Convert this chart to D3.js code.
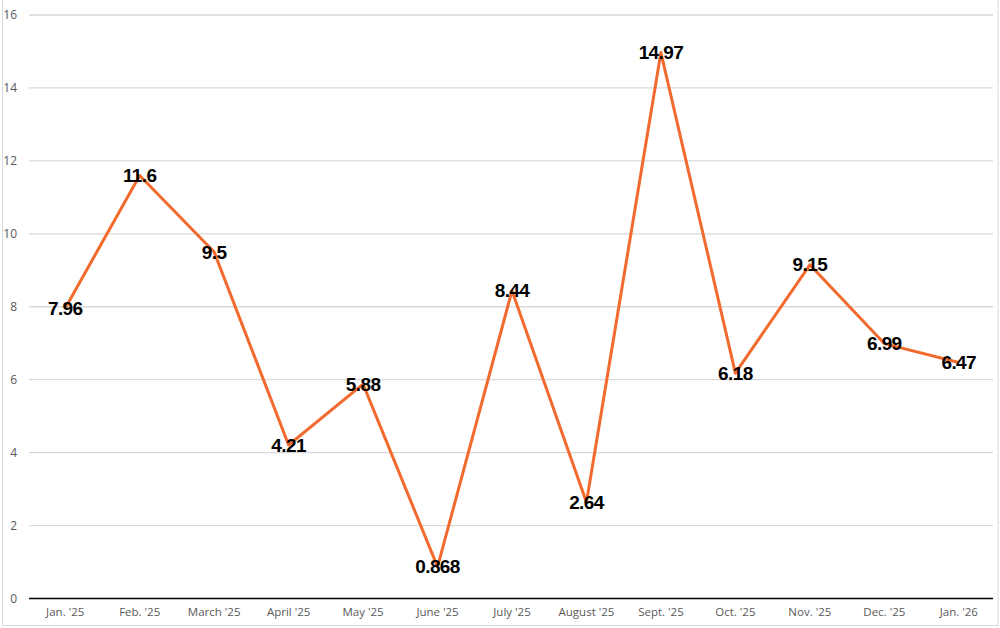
<!DOCTYPE html>
<html>
<head>
<meta charset="utf-8">
<script src="https://cdn.jsdelivr.net/npm/d3@7"></script>
<style>
    body { margin: 0; background: #fff; }
    #chart { width: 1000px; height: 628px; }
</style>
</head>
<body>
<div id="chart"></div>
<script>
var months = ["Jan. '25", "Feb. '25", "March '25", "April '25", "May '25", "June '25", "July '25",
              "August '25", "Sept. '25", "Oct. '25", "Nov. '25", "Dec. '25", "Jan. '26"];
var values = [7.96, 11.6, 9.5, 4.21, 5.88, 0.868, 8.44, 2.64, 14.97, 6.18, 9.15, 6.99, 6.47];
var y_ticks = [0, 2, 4, 6, 8, 10, 12, 14, 16];

let width = 1000, height = 628;
let margin = {top: 15, right: 4, bottom: 29, left: 29};

let svg = d3.select('#chart').append('svg')
    .attr('width', width)
    .attr('height', height);

// outer frame of the chart object
svg.append('rect')
    .attr('x', 2.5).attr('y', -2)
    .attr('width', 995.5).attr('height', 627.5)
    .attr('fill', 'none')
    .attr('stroke', '#d9d9d9')
    .attr('stroke-width', 1);

let x = d3.scaleBand()
    .domain(months)
    .range([margin.left - 1, width - margin.right]);

let y = d3.scaleLinear()
    .domain([0, 16])
    .range([height - margin.bottom - 0.5, margin.top]);

// gridlines
svg.append('g')
    .selectAll('line')
    .data(y_ticks.slice(1))
    .enter().append('line')
    .attr('x1', margin.left)
    .attr('x2', width - margin.right - 3)
    .attr('y1', function(d) { return y(d); })
    .attr('y2', function(d) { return y(d); })
    .attr('stroke', '#d9d9d9')
    .attr('stroke-width', 1.3);

// y axis labels
let y_axis = svg.append('g')
    .attr('transform', 'translate(' + (margin.left - 12) + ',0)')
    .call(d3.axisLeft(y).tickValues(y_ticks).tickSize(0).tickPadding(0));
y_axis.select('.domain').remove();
y_axis.selectAll('text')
    .style('font-family', 'Open Sans, sans-serif')
    .style('font-size', '12px')
    .style('fill', '#595959');

// baseline
svg.append('line')
    .attr('x1', margin.left)
    .attr('x2', width - margin.right - 3)
    .attr('y1', y(0))
    .attr('y2', y(0))
    .attr('stroke', '#000')
    .attr('stroke-width', 1.5);

// x axis labels
let x_axis = svg.append('g')
    .attr('transform', 'translate(0,' + (y(0) + 5) + ')')
    .call(d3.axisBottom(x).tickSize(0).tickPadding(4));
x_axis.select('.domain').remove();
x_axis.selectAll('text')
    .style('font-family', 'Open Sans, sans-serif')
    .style('font-size', '11.5px')
    .style('fill', '#595959');

// line
let line = d3.line()
    .x(function(d, i) { return x(months[i]) + x.bandwidth() / 2; })
    .y(function(d) { return y(d); });

svg.append('path')
    .datum(values)
    .attr('d', line)
    .attr('fill', 'none')
    .attr('stroke', '#f26a2e')
    .attr('stroke-width', 3)
    .attr('stroke-linejoin', 'round');

// data labels, centred on the points
svg.append('g')
    .selectAll('text')
    .data(values)
    .enter().append('text')
    .attr('x', function(d, i) { return x(months[i]) + x.bandwidth() / 2; })
    .attr('y', function(d) { return y(d); })
    .attr('dy', '0.35em')
    .attr('text-anchor', 'middle')
    .style('font-family', 'Liberation Sans, Arial, sans-serif')
    .style('font-weight', 'bold')
    .style('font-size', '19px')
    .style('letter-spacing', '-0.6px')
    .style('fill', '#000')
    .text(function(d) { return d; });
</script>
</body>
</html>
